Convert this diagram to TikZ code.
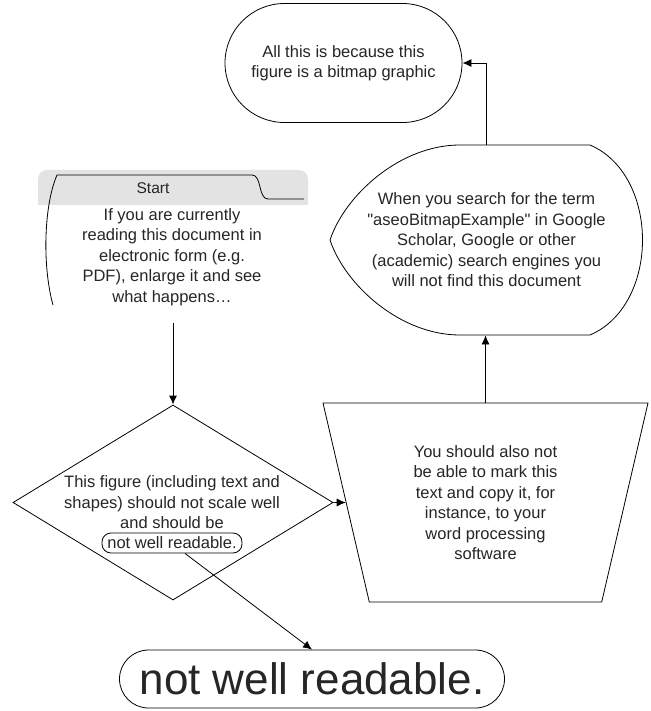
\documentclass[tikz,border=0pt]{standalone}
\usepackage{fontspec}
\setmainfont{Liberation Sans}
\usetikzlibrary{arrows.meta,shapes.geometric}

\begin{document}
\begin{tikzpicture}[x=1pt, y=-1pt, >={Latex[length=9pt,width=8pt]}, line width=0.8pt,
  txt/.style={align=center, text=black!85, font=\fontsize{16.5}{20.5}\selectfont},
  pill/.style={draw, rounded corners=#1, inner sep=0pt}]
  \useasboundingbox[fill=white] (0,0) rectangle (650,711);

  % start card
  \fill[black!11] (38,205) [rounded corners=9pt] -- (38,170) -- (308,170) [sharp corners] -- (308,205) -- cycle;
  \draw (53,305) .. controls (42,265) and (44,205) .. (57,175) -- (252,175) .. controls (262,175) and (258,199) .. (268,199) -- (304,199);
  \node[txt, font=\fontsize{15.5}{18}\selectfont] (head) at (153,188) {Start};
  \node[txt] (startbody) at (172,257) {If you are currently\\reading this document in\\electronic form (e.g.\\PDF), enlarge it and see\\what happens\ldots};
  \coordinate (startout) at (173,323);

  % decision
  \node[draw, diamond, minimum width=320pt, minimum height=195pt, inner sep=0pt] (dec) at (173,502.5) {};
  \node[txt] (dectext) at (172,502.5) {This figure (including text and\\shapes) should not scale well\\and should be};
  \node[txt, pill=9pt, minimum width=140pt, minimum height=20pt] (inner) at (172,543) {not well readable.};

  % trapezium
  \node[txt, draw, trapezium, shape border rotate=180, trapezium angle=68, trapezium stretches body,
        minimum width=325pt, minimum height=199pt, inner sep=0pt] (trap) at (485.5,502.5)
        {You should also not\\be able to mark this\\text and copy it, for\\instance, to your\\word processing\\software};

  % display shape
  \draw (460,145) -- (590,145) .. controls (660,175) and (660,305) .. (590,335) -- (460,335)
        .. controls (400,335) and (345,285) .. (330,240) .. controls (345,195) and (400,145) .. (460,145) -- cycle;
  \node[txt, minimum width=313pt, minimum height=190pt, inner sep=0pt] (search) at (486.5,240)
        {When you search for the term\\\textquotedbl aseoBitmapExample\textquotedbl{} in Google\\Scholar, Google or other\\(academic) search engines you\\will not find this document};

  % terminators
  \node[txt, pill=59.5pt, minimum width=237pt, minimum height=119pt] (final) at (343.5,63)
        {All this is because this\\figure is a bitmap graphic};
  \node[pill=29pt, minimum width=385pt, minimum height=58pt, text=black!85,
        font=\fontsize{44}{44}\selectfont] (big) at (312,679) {not well readable.};

  % connectors
  \draw[->] (startout) -- (dec.north);
  \draw[->] (dec.east) -- (trap);
  \draw[->] (trap.north) -- (trap.north |- search.south);
  \draw[->] (search.north) |- (final.east);
  \draw[->] ([xshift=13pt]inner.south) -- (big.north);
\end{tikzpicture}
\end{document}
